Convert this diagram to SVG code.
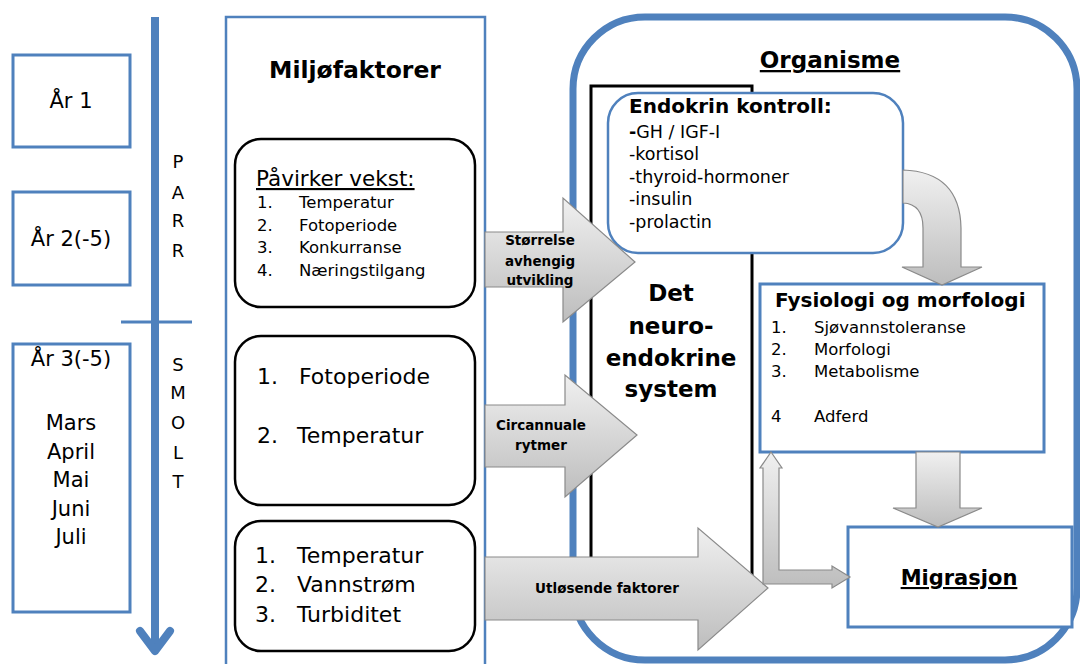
<svg xmlns="http://www.w3.org/2000/svg" width="1080" height="664" viewBox="0 0 1080 664">
<defs>
<linearGradient id="gv" x1="0" y1="0" x2="0" y2="1">
<stop offset="0" stop-color="#f0f0f0"/>
<stop offset="1" stop-color="#bdbdbd"/>
</linearGradient>
</defs>
<style>
text{font-family:"DejaVu Sans","Liberation Sans",sans-serif;fill:#000}
.yr{fill:#fff;stroke:#4f81bd;stroke-width:3}
.blue{fill:#fff;stroke:#4f81bd;stroke-width:2.5}
.rbox{fill:#fff;stroke:#000;stroke-width:2.5}
.arr{fill:url(#gv);stroke:#8a8a8a;stroke-width:1.2;stroke-linejoin:miter}
.b{font-weight:bold}
.c{text-anchor:middle}
.yt{font-size:21px;text-anchor:middle}
.lt{font-size:18px;text-anchor:middle}
.li{font-size:16.5px}
.big{font-size:22px}
.en{font-size:17.5px}
.lb{font-size:13.5px;font-weight:bold;text-anchor:middle}
</style>
<rect width="1080" height="664" fill="#fff"/>

<g id="timeline">
<line x1="155" y1="17" x2="155" y2="650" stroke="#4f81bd" stroke-width="8"/>
<polyline points="140,631 155,651 170,631" fill="none" stroke="#4f81bd" stroke-width="8" stroke-linecap="round" stroke-linejoin="round"/>
<line x1="121" y1="322" x2="192" y2="322" stroke="#4f81bd" stroke-width="3"/>
<text class="lt" x="178" y="168">P</text>
<text class="lt" x="178" y="199">A</text>
<text class="lt" x="178" y="227">R</text>
<text class="lt" x="178" y="257">R</text>
<text class="lt" x="178" y="371">S</text>
<text class="lt" x="178" y="399">M</text>
<text class="lt" x="178" y="429">O</text>
<text class="lt" x="178" y="459">L</text>
<text class="lt" x="178" y="488">T</text>
</g>

<g id="year1">
<rect class="yr" x="13" y="55" width="117" height="92"/>
<text class="yt" x="71" y="108">År 1</text>
</g>
<g id="year2">
<rect class="yr" x="13" y="192" width="117" height="93"/>
<text class="yt" x="71" y="246">År 2(-5)</text>
</g>
<g id="year3">
<rect class="yr" x="13" y="344" width="117" height="268"/>
<text class="yt" x="71" y="366">År 3(-5)</text>
<text class="yt" x="71" y="430">Mars</text>
<text class="yt" x="71" y="459">April</text>
<text class="yt" x="71" y="487">Mai</text>
<text class="yt" x="71" y="516">Juni</text>
<text class="yt" x="71" y="544">Juli</text>
</g>

<g id="miljofaktorer">
<rect x="226" y="17" width="259" height="670" fill="#fff" stroke="#4f81bd" stroke-width="2.5"/>
<text class="b c" x="355" y="78" font-size="23.5">Miljøfaktorer</text>
</g>

<g id="pavirker">
<rect class="rbox" x="235" y="139" width="240" height="168" rx="26"/>
<text x="256" y="186" font-size="21.5" text-decoration="underline">Påvirker vekst:</text>
<text class="li" x="257" y="208">1.</text><text class="li" x="299" y="208">Temperatur</text>
<text class="li" x="257" y="231">2.</text><text class="li" x="299" y="231">Fotoperiode</text>
<text class="li" x="257" y="253">3.</text><text class="li" x="299" y="253">Konkurranse</text>
<text class="li" x="257" y="276">4.</text><text class="li" x="299" y="276">Næringstilgang</text>
</g>

<g id="fotoperiode">
<rect class="rbox" x="235" y="336" width="240" height="169" rx="26"/>
<text class="big" x="257" y="384">1.</text><text class="big" x="299" y="384">Fotoperiode</text>
<text class="big" x="257" y="443">2.</text><text class="big" x="297" y="443">Temperatur</text>
</g>

<g id="temperatur">
<rect class="rbox" x="235" y="521" width="240" height="130" rx="26"/>
<text class="big" x="255" y="563">1.</text><text class="big" x="297" y="563">Temperatur</text>
<text class="big" x="255" y="592">2.</text><text class="big" x="297" y="592">Vannstrøm</text>
<text class="big" x="255" y="622">3.</text><text class="big" x="297" y="622">Turbiditet</text>
</g>

<g id="organisme">
<rect x="573" y="17" width="504" height="643" rx="72" fill="#fff" stroke="#4f81bd" stroke-width="7"/>
<text class="b c" x="830" y="68" font-size="23" text-decoration="underline">Organisme</text>
</g>

<g id="neuroendokrine">
<rect x="591" y="86" width="161" height="508" fill="#fff" stroke="#000" stroke-width="3"/>
<text class="b c" x="671" y="301" font-size="23">Det</text>
<text class="b c" x="671" y="334" font-size="23">neuro-</text>
<text class="b c" x="671" y="366" font-size="23">endokrine</text>
<text class="b c" x="671" y="397" font-size="23">system</text>
</g>

<g id="endokrin">
<rect class="blue" x="608" y="93" width="295" height="160" rx="30"/>
<text class="b" x="629" y="113" font-size="20">Endokrin kontroll:</text>
<text class="en" x="629" y="138"><tspan font-weight="bold">-</tspan>GH / IGF-I</text>
<text class="en" x="629" y="160">-kortisol</text>
<text class="en" x="629" y="183">-thyroid-hormoner</text>
<text class="en" x="629" y="205">-insulin</text>
<text class="en" x="629" y="228">-prolactin</text>
</g>

<g id="fysiologi">
<rect x="760" y="284" width="284" height="168" fill="#fff" stroke="#4f81bd" stroke-width="3"/>
<text class="b" x="775" y="307" font-size="20">Fysiologi og morfologi</text>
<text class="li" x="771" y="333">1.</text><text class="li" x="814" y="333">Sjøvannstoleranse</text>
<text class="li" x="771" y="355">2.</text><text class="li" x="814" y="355">Morfologi</text>
<text class="li" x="771" y="377">3.</text><text class="li" x="814" y="377">Metabolisme</text>
<text class="li" x="771" y="422">4</text><text class="li" x="814" y="422">Adferd</text>
</g>

<g id="migrasjon">
<rect x="848" y="527" width="224" height="100" fill="#fff" stroke="#4f81bd" stroke-width="3"/>
<text class="b c" x="959" y="585" font-size="21" text-decoration="underline">Migrasjon</text>
</g>

<g id="connectors">
<path class="arr" d="M485,232 L563,232 L563,198 L635,262 L563,322 L563,287 L485,287 Z"/>
<text class="lb" x="540" y="245">Størrelse</text>
<text class="lb" x="540" y="266">avhengig</text>
<text class="lb" x="540" y="285">utvikling</text>

<path class="arr" d="M485,405 L565,405 L565,375 L637,435 L565,497 L565,467 L485,467 Z"/>
<text class="lb" x="541" y="430">Circannuale</text>
<text class="lb" x="541" y="450">rytmer</text>

<path class="arr" d="M485,557 L698,557 L698,528 L768,588 L698,650 L698,620 L485,620 Z"/>
<text class="lb" x="607" y="593">Utløsende faktorer</text>

<path class="arr" d="M903,170 Q960,172 961,228 L961,267 L982,267 L942,285 L902,267 L923,267 L923,228 Q923,204 903,203 Z"/>

<path class="arr" d="M916,452 L960,452 L960,508 L982,508 L938,527 L893,508 L916,508 Z"/>

<path class="arr" d="M771,452 L782,468 L779,468 L779,570 L832,570 L832,566 L850,577 L832,588 L832,584 L763,584 L763,468 L760,468 Z"/>
</g>
</svg>
